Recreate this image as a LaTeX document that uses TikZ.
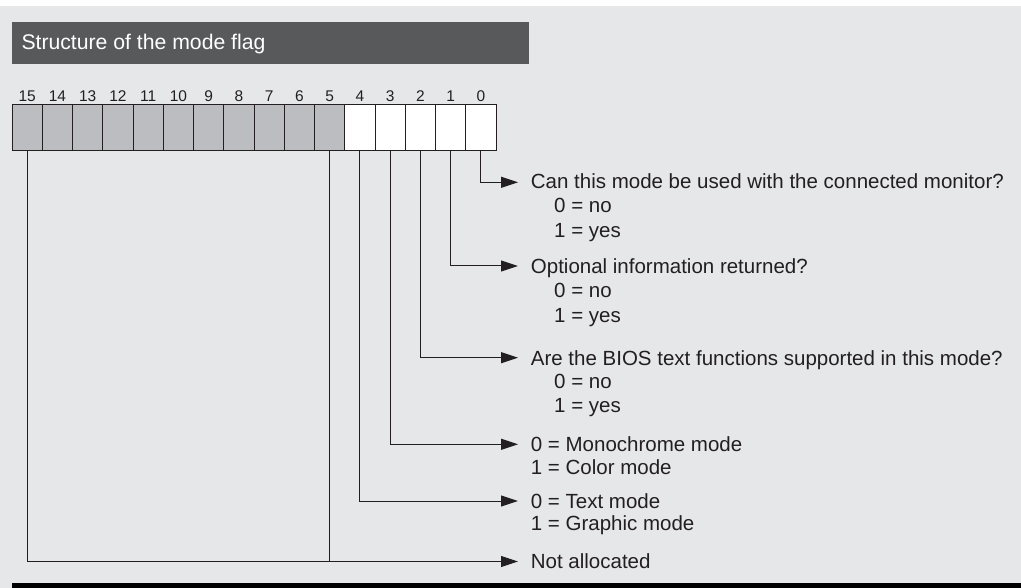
\documentclass[tikz,border=0pt]{standalone}
\usepackage{fontspec}
\setmainfont{Liberation Sans}
\usetikzlibrary{arrows.meta,calc}
\definecolor{bgc}{HTML}{E6E7E8}
\definecolor{barc}{HTML}{58595B}
\definecolor{cellg}{HTML}{BCBDC0}
\definecolor{linec}{HTML}{231F20}
\tikzset{
  cellbox/.style={draw=linec, line width=1pt, anchor=north west, minimum width=30.25pt, minimum height=45.5pt, inner sep=0pt, outer sep=0pt},
  bitlbl/.style={anchor=base, inner sep=0pt, font=\fontsize{15.5}{18}\selectfont, text=linec},
  txt/.style={anchor=base west, inner sep=0pt, font=\fontsize{20.5}{24}\selectfont, text=linec},
  conn/.style={draw=linec, line width=1pt, -{Triangle[length=17pt,width=11pt]}},
  plain/.style={draw=linec, line width=1pt}
}
\begin{document}
\begin{tikzpicture}[x=1pt,y=-1pt]
\useasboundingbox (0,0) rectangle (1021,588);
\fill[white] (0,0) rectangle (1021,588);
\fill[bgc] (0,6) rectangle (1021,588);
\fill[black] (12,583) rectangle (1021,588);
% title
\node[fill=barc, anchor=north west, minimum width=517pt, minimum height=42pt, inner sep=0pt] (titlebar) at (12,22) {};
\node[anchor=base west, inner sep=0pt, text=white, font=\fontsize{21.2}{25}\selectfont] (titletext) at (21.3,50) {Structure of the mode flag};
% cells
\foreach \b in {5,...,15} {
  \pgfmathsetmacro\xx{12+30.25*(15-\b)}
  \node[cellbox, fill=cellg] (c\b) at (\xx,105) {};
}
\foreach \b in {0,...,4} {
  \pgfmathsetmacro\xx{12+30.25*(15-\b)}
  \node[cellbox, fill=white] (c\b) at (\xx,105) {};
}
\foreach \b in {0,...,15} {
  \node[bitlbl] (l\b) at ($(c\b.north)+(0,-3.3)$) {\b};
}
% arrow end points
\coordinate (a0) at (518,182.3);
\coordinate (a1) at (518,266);
\coordinate (a2) at (518,357.7);
\coordinate (a3) at (518,444.3);
\coordinate (a4) at (518,501);
\coordinate (a5) at (518,561.5);
% connectors
\draw[conn] (c0.south) |- (a0);
\draw[conn] (c1.south) |- (a1);
\draw[conn] (c2.south) |- (a2);
\draw[conn] (c3.south) |- (a3);
\draw[conn] (c4.south) |- (a4);
\draw[conn] (c15.south) |- (a5);
\draw[plain] (c5.south) -- (c5.south |- a5);
% texts
\node[txt] (t0) at (530.7,189) {Can this mode be used with the connected monitor?};
\node[txt] (t0n) at (554,212.5) {0 = no};
\node[txt] (t0y) at (554,237.3) {1 = yes};
\node[txt] (t1) at (530.7,273.5) {Optional information returned?};
\node[txt] (t1n) at (554,297.7) {0 = no};
\node[txt] (t1y) at (554,322.5) {1 = yes};
\node[txt] (t2) at (530.7,365) {Are the BIOS text functions supported in this mode?};
\node[txt] (t2n) at (554,388.5) {0 = no};
\node[txt] (t2y) at (554,412.5) {1 = yes};
\node[txt] (t3) at (530.7,451.5) {0 = Monochrome mode};
\node[txt] (t3b) at (530.7,474) {1 = Color mode};
\node[txt] (t4) at (530.7,508.3) {0 = Text mode};
\node[txt] (t4b) at (530.7,530.5) {1 = Graphic mode};
\node[txt] (t5) at (530.7,568.7) {Not allocated};
\end{tikzpicture}
\end{document}
